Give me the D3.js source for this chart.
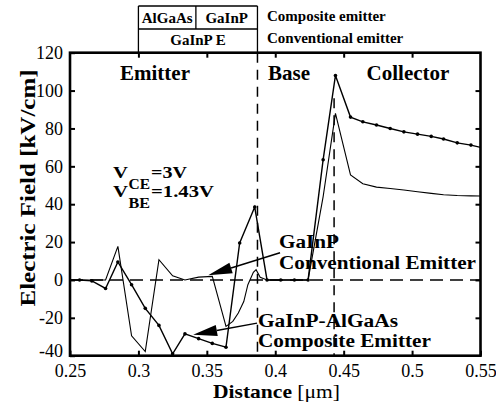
<!DOCTYPE html>
<html>
<head>
<meta charset="utf-8">
<script src="https://cdn.jsdelivr.net/npm/d3@7"></script>
<style>
  html, body { margin: 0; padding: 0; background: #fff; }
  svg { display: block; }
  text { font-family: "Liberation Serif", "Times New Roman", serif; fill: #000; }
</style>
</head>
<body>
<svg id="chart" width="496" height="408"></svg>
<script>
// Electric field profile across an HBT (emitter / base / collector)

// GaInP-AlGaAs composite emitter (drawn with point markers)
const compositeDistance = [0.25, 0.257, 0.266, 0.276, 0.285, 0.295, 0.305, 0.315, 0.325, 0.334,
  0.344, 0.354, 0.364, 0.374, 0.385, 0.394, 0.404, 0.414, 0.424, 0.435, 0.444, 0.455, 0.464,
  0.474, 0.484, 0.494, 0.504, 0.514, 0.523, 0.533, 0.543, 0.55];
const compositeField = [0, 0, -0.5, -4.5, 9.5, -2.5, -15, -24, -39, -28.5,
  -31, -33.5, -35.5, 19.5, 38.5, 0, 0, 0, 0, 63.5, 108, 86, 83.5,
  81.8, 80, 78.2, 77, 75.8, 74.4, 72.4, 71.2, 70];

// GaInP conventional emitter (plain line)
const conventionalDistance = [0.25, 0.266, 0.276, 0.285, 0.295, 0.305, 0.315, 0.325, 0.334, 0.344,
  0.354, 0.364, 0.369, 0.373, 0.377, 0.380, 0.384, 0.386, 0.389, 0.394, 0.404, 0.414, 0.424,
  0.435, 0.444, 0.455, 0.464, 0.474, 0.484, 0.494, 0.504, 0.514, 0.523, 0.533, 0.543, 0.55];
const conventionalField = [0, 0, 0, 17.7, -29.5, -37.8, 10.7, 2.2, 0, 1.5,
  1.9, -24.5, -21.9, -17.5, -11.4, -2.5, 4, 5.4, 1.4, 0, 0, 0, 0,
  44, 88, 55.5, 50.8, 49, 48.3, 47.5, 46.6, 45.7, 45, 44.6, 44.4, 44.3];

// Axis ticks
const xTicks = [0.25, 0.3, 0.35, 0.4, 0.45, 0.5, 0.55];
const yTicks = [-40, -20, 0, 20, 40, 60, 80, 100, 120];

// Layer boundaries (µm)
const emitterBaseEdge = 0.387;
const baseCollectorEdge = 0.443;
const alGaAsStart = 0.3;
const alGaAsGaInPEdge = 0.342;

// Region names
const regionNames = ["Emitter", "Base", "Collector"];

// Bias conditions: [subscript, value]
const biasCE = ["CE", "3V"];
const biasBE = ["BE", "1.43V"];

// Arrow annotations: [tail distance, tail field, tip distance, tip field]
const conventionalArrow = [0.4035, 14.4, 0.351, 2.5];
const compositeArrow = [0.3867, -22.8, 0.340, -29];

(function draw() {
  const svg = d3.select("#chart");
  const pLeft = 70, pRight = 480.5, pTop = 52.7, pBottom = 355.7;

  const x = d3.scaleLinear().domain([0.25, 0.55]).range([pLeft, pRight]);
  const y = d3.scaleLinear().domain([-40, 120]).range([pBottom, pTop]);

  // Dashed reference lines
  svg.append("line")
    .attr("x1", x(0.25)).attr("x2", x(0.55))
    .attr("y1", y(0)).attr("y2", y(0))
    .attr("stroke", "#000").attr("stroke-width", 1.5)
    .attr("stroke-dasharray", "13,7");
  svg.append("line")
    .attr("x1", x(emitterBaseEdge)).attr("x2", x(emitterBaseEdge))
    .attr("y1", pTop).attr("y2", pBottom)
    .attr("stroke", "#000").attr("stroke-width", 1.5)
    .attr("stroke-dasharray", "10,7");
  svg.append("line")
    .attr("x1", x(baseCollectorEdge)).attr("x2", x(baseCollectorEdge))
    .attr("y1", y(96)).attr("y2", pBottom)
    .attr("stroke", "#000").attr("stroke-width", 1.5)
    .attr("stroke-dasharray", "10,7");

  // Data lines
  const lineGen = d3.line().x(d => x(d[0])).y(d => y(d[1]));
  const conventional = conventionalDistance.map((d, i) => [d, conventionalField[i]]);
  const composite = compositeDistance.map((d, i) => [d, compositeField[i]]);

  svg.append("path")
    .datum(conventional)
    .attr("d", lineGen)
    .attr("fill", "none").attr("stroke", "#000").attr("stroke-width", 1.1);

  svg.append("path")
    .datum(composite)
    .attr("d", lineGen)
    .attr("fill", "none").attr("stroke", "#000").attr("stroke-width", 1.4);

  svg.append("g").selectAll("circle")
    .data(composite.slice(1, -1))
    .join("circle")
    .attr("cx", d => x(d[0])).attr("cy", d => y(d[1]))
    .attr("r", 1.8).attr("fill", "#000");

  // Axes: ticks pointing inward on all four sides
  const axisStyle = g => {
    g.select(".domain").remove();
    g.selectAll(".tick line").attr("stroke", "#000").attr("stroke-width", 2);
    g.selectAll(".tick text")
      .style("font-family", '"Liberation Serif", "Times New Roman", serif')
      .style("font-size", "18px").attr("fill", "#000");
  };

  svg.append("g")
    .attr("transform", `translate(0,${pBottom})`)
    .call(d3.axisBottom(x).tickValues(xTicks).tickFormat(d => String(d)).tickSizeInner(-5).tickSizeOuter(0).tickPadding(8.5))
    .call(axisStyle);

  svg.append("g")
    .attr("transform", `translate(0,${pTop})`)
    .call(d3.axisTop(x).tickValues(xTicks.slice(1, -1)).tickFormat("").tickSizeInner(-5).tickSizeOuter(0))
    .call(axisStyle);

  const yAxisG = svg.append("g")
    .attr("transform", `translate(${pLeft},0)`)
    .call(d3.axisLeft(y).tickValues(yTicks).tickFormat(d => String(d)).tickSizeInner(-5).tickSizeOuter(0).tickPadding(7))
    .call(axisStyle);
  // lift the bottom label a little so it clears the first distance label
  yAxisG.selectAll(".tick").filter(d => d === yTicks[0]).select("text").attr("y", -4.5);

  svg.append("g")
    .attr("transform", `translate(${pRight},0)`)
    .call(d3.axisRight(y).tickValues(yTicks.slice(1, -1)).tickFormat("").tickSizeInner(-5).tickSizeOuter(0))
    .call(axisStyle);

  // Plot frame
  svg.append("rect")
    .attr("x", pLeft).attr("y", pTop)
    .attr("width", pRight - pLeft).attr("height", pBottom - pTop)
    .attr("fill", "none").attr("stroke", "#000").attr("stroke-width", 2.6);

  // Layer structure table above the plot
  const boxTop = 6, boxMid = 29;
  const tbl = svg.append("g").attr("stroke", "#000").attr("stroke-width", 1.3);
  tbl.append("line").attr("x1", x(alGaAsStart)).attr("x2", x(emitterBaseEdge)).attr("y1", boxTop).attr("y2", boxTop);
  tbl.append("line").attr("x1", x(alGaAsStart)).attr("x2", x(emitterBaseEdge)).attr("y1", boxMid).attr("y2", boxMid);
  tbl.append("line").attr("x1", x(alGaAsStart)).attr("x2", x(alGaAsStart)).attr("y1", boxTop).attr("y2", pTop);
  tbl.append("line").attr("x1", x(emitterBaseEdge)).attr("x2", x(emitterBaseEdge)).attr("y1", boxTop).attr("y2", pTop);
  tbl.append("line").attr("x1", x(alGaAsGaInPEdge)).attr("x2", x(alGaAsGaInPEdge)).attr("y1", boxTop).attr("y2", boxMid);

  function boldText(txt, px, py, size, anchor, width) {
    const t = svg.append("text")
      .attr("x", px).attr("y", py)
      .attr("text-anchor", anchor || "start")
      .style("font-size", size).style("font-weight", "bold")
      .text(txt);
    if (width) t.attr("textLength", width).attr("lengthAdjust", "spacingAndGlyphs");
    return t;
  }
  boldText("AlGaAs", (x(alGaAsStart) + x(alGaAsGaInPEdge)) / 2, 23, "15px", "middle");
  boldText("GaInP", (x(alGaAsGaInPEdge) + x(emitterBaseEdge)) / 2, 23, "15px", "middle");
  boldText("GaInP E", (x(alGaAsStart) + x(emitterBaseEdge)) / 2, 45, "15px", "middle");
  boldText("Composite emitter", 267, 21, "15px");
  boldText("Conventional emitter", 267, 43, "15px");

  // Region labels
  boldText(regionNames[0], 155, 80, "21px", "middle");
  boldText(regionNames[1], 289, 80, "21px", "middle");
  boldText(regionNames[2], 408, 80, "21px", "middle");

  // Bias conditions, V with subscript
  function biasLabel(b, py, valueWidth) {
    boldText("V", 113, py, "17px", "start", 15);
    boldText(b[0], 128.5, py + 10.5, "14px", "start", 21.5);
    boldText("=" + b[1], 151, py, "17px", "start", valueWidth);
  }
  biasLabel(biasCE, 178, 36);
  biasLabel(biasBE, 197, 63);

  // Arrow annotations
  function arrow(a) {
    const x1 = x(a[0]), y1 = y(a[1]), x2 = x(a[2]), y2 = y(a[3]);
    const ang = Math.atan2(y2 - y1, x2 - x1);
    const len = 24, half = 5.5;
    const bx = x2 - len * Math.cos(ang), by = y2 - len * Math.sin(ang);
    svg.append("line").attr("x1", x1).attr("y1", y1).attr("x2", bx).attr("y2", by)
      .attr("stroke", "#000").attr("stroke-width", 1.5);
    const pts = [
      [x2, y2],
      [bx + half * Math.sin(ang), by - half * Math.cos(ang)],
      [bx - half * Math.sin(ang), by + half * Math.cos(ang)]
    ];
    svg.append("polygon").attr("points", pts.map(p => p.join(",")).join(" ")).attr("fill", "#000");
  }
  arrow(conventionalArrow);
  arrow(compositeArrow);

  boldText("GaInP", 279, 248, "18px", "start", 60);
  boldText("Conventional Emitter", 279, 268.5, "18px", "start", 197);
  boldText("GaInP-AlGaAs", 258, 326.5, "18px", "start", 140);
  boldText("Composite Emitter", 258, 347, "18px", "start", 173);

  // Axis titles
  const xt = svg.append("text").attr("x", 213).attr("y", 398).style("font-size", "19px")
    .attr("textLength", 127).attr("lengthAdjust", "spacingAndGlyphs");
  xt.append("tspan").style("font-weight", "bold").text("Distance ");
  xt.append("tspan").text("[\u03bcm]");

  svg.append("text")
    .attr("transform", "translate(35,188) rotate(-90)")
    .attr("text-anchor", "middle")
    .attr("textLength", 237).attr("lengthAdjust", "spacingAndGlyphs")
    .style("font-size", "20px").style("font-weight", "bold")
    .text("Electric Field [kV/cm]");
})();
</script>
</body>
</html>
